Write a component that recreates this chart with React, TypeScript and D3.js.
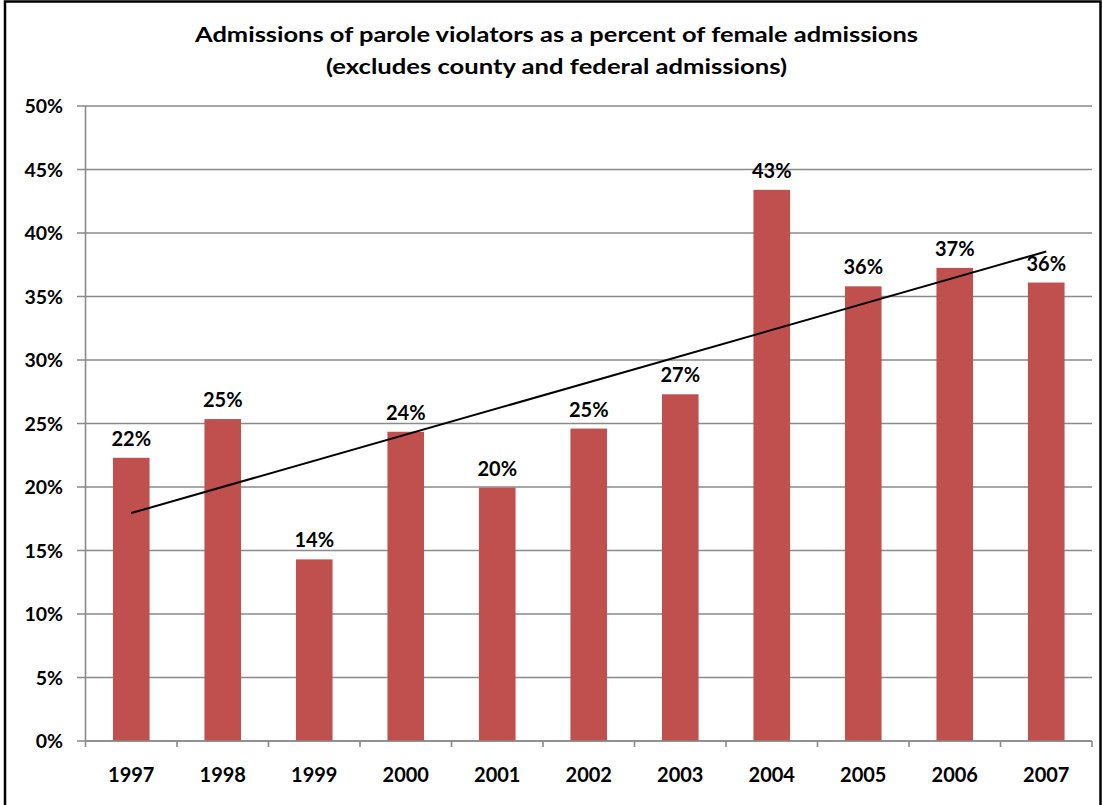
import React from "react";
import * as d3 from "d3";

const years = ["1997", "1998", "1999", "2000", "2001", "2002", "2003", "2004", "2005", "2006", "2007"];
const values = [22.3, 25.35, 14.3, 24.35, 19.95, 24.6, 27.3, 43.4, 35.8, 37.25, 36.1];
const yTicks = [0, 5, 10, 15, 20, 25, 30, 35, 40, 45, 50];
const titleLines = [
  "Admissions of parole violators as a percent of female admissions",
  "(excludes county and federal admissions)",
];
const titleWidths = [723, 461];

const W = 1102;
const H = 805;
const M = { left: 85.5, right: 1092, top: 106, bottom: 741 };
const FONT = "Lato, 'Open Sans', sans-serif";

export default function App() {
  const x = d3.scaleBand<string>().domain(years).range([M.left, M.right]).paddingInner(0.6).paddingOuter(0.3);
  const xOuter = d3.scaleBand<string>().domain(years).range([M.left, M.right]);
  const y = d3.scaleLinear().domain([0, 50]).range([M.bottom, M.top]);

  // linear trendline (least squares over index)
  const n = values.length;
  const idx = d3.range(n);
  const mx = d3.mean(idx) as number;
  const my = d3.mean(values) as number;
  const slope =
    d3.sum(idx, (i) => (i - mx) * (values[i] - my)) / d3.sum(idx, (i) => (i - mx) * (i - mx));
  const intercept = my - slope * mx;
  const cx = (i: number) => (xOuter(years[i]) as number) + xOuter.bandwidth() / 2;
  const trend = d3.line<number>()
    .x((i) => cx(i))
    .y((i) => y(intercept + slope * i))([0, n - 1]);

  const tickPositions = d3.range(n + 1).map((i) => M.left + i * xOuter.step());

  return (
    <svg width={W} height={H} style={{ position: "absolute", left: 0, top: 0, background: "#fff" }}>
      <rect x={0} y={0} width={W} height={H} fill="#fff" />
      {/* border */}
      <rect x={5} y={1.5} width={1095.5} height={H + 10} fill="none" stroke="#000" strokeWidth={2.5} />
      {/* title */}
      {titleLines.map((t, i) => (
        <text key={i} x={556.5} y={41.5 + i * 32.5} textAnchor="middle" fontFamily={FONT} fontWeight="bold" fontSize={21}
          textLength={titleWidths[i]} lengthAdjust="spacingAndGlyphs" fill="#000">
          {t}
        </text>
      ))}
      {/* gridlines and y ticks */}
      {yTicks.map((t) => (
        <g key={t}>
          <line x1={77} x2={M.right} y1={y(t)} y2={y(t)} stroke="#8a8a8a" strokeWidth={1.6} />
          <text x={63} y={y(t)} dy="0.36em" textAnchor="end" fontFamily={FONT} fontWeight="bold" fontSize={19.5} fill="#000">
            {t}%
          </text>
        </g>
      ))}
      {/* y axis */}
      <line x1={M.left} x2={M.left} y1={M.top} y2={M.bottom} stroke="#8a8a8a" strokeWidth={1.6} />
      {/* bars */}
      {years.map((yr, i) => (
        <rect key={yr} x={x(yr)} y={y(values[i])} width={x.bandwidth()} height={y(0) - y(values[i])} fill="#C0504D" />
      ))}
      {/* x axis */}
      <line x1={M.left} x2={M.right} y1={M.bottom} y2={M.bottom} stroke="#8a8a8a" strokeWidth={1.6} />
      {tickPositions.map((p, i) => (
        <line key={i} x1={p} x2={p} y1={M.bottom} y2={M.bottom + 6} stroke="#8a8a8a" strokeWidth={1.6} />
      ))}
      {years.map((yr) => (
        <text key={yr} x={(x(yr) as number) + x.bandwidth() / 2} y={782} textAnchor="middle" fontFamily={FONT} fontWeight="bold" fontSize={20} fill="#000">
          {yr}
        </text>
      ))}
      {/* data labels */}
      {years.map((yr, i) => (
        <text key={yr} x={(x(yr) as number) + x.bandwidth() / 2} y={y(values[i]) - 12} textAnchor="middle" fontFamily={FONT} fontWeight="bold" fontSize={20} fill="#000">
          {Math.round(values[i])}%
        </text>
      ))}
      {/* trendline */}
      <path d={trend || ""} fill="none" stroke="#000" strokeWidth={2} />
    </svg>
  );
}
